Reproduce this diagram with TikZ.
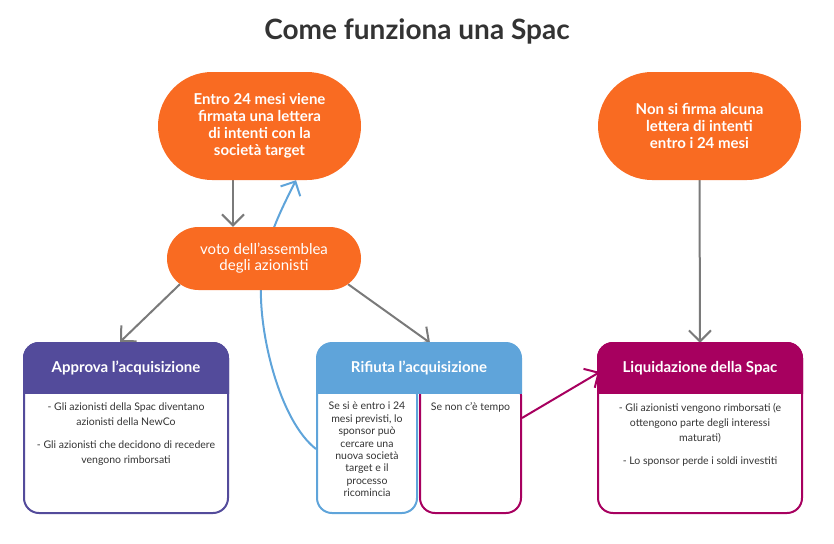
\documentclass[tikz,border=0pt]{standalone}
\usepackage{fontspec}
\setmainfont{Lato}
\usetikzlibrary{shapes.misc,arrows.meta,backgrounds}
\definecolor{orng}{HTML}{F96B22}
\definecolor{purp}{HTML}{534B9B}
\definecolor{blu}{HTML}{5FA4DA}
\definecolor{mag}{HTML}{A7005F}
\definecolor{gry}{HTML}{7A7A7A}
\definecolor{txt}{HTML}{333333}
\begin{document}
\begin{tikzpicture}[x=1pt,y=-1pt,
  stadium/.style={rounded rectangle, fill=orng, text=white, align=center, inner sep=0pt},
  boxo/.style={draw=#1, line width=2pt, rounded corners=15pt, inner sep=0pt},
  hdr/.style={minimum width=204pt, minimum height=50pt, inner sep=0pt, text=white, font=\fontsize{15}{18}\selectfont\bfseries},
  body/.style={text=txt, align=center, inner sep=0pt, font=\fontsize{10.5}{15}\selectfont},
  small/.style={text=txt, align=center, inner sep=0pt, font=\fontsize{10.5}{12.4}\selectfont},
  garrow/.style={draw=gry, line width=2pt, -{Straight Barb[length=11pt,width=22pt]}},
  barrow/.style={draw=blu, line width=2pt, -{Straight Barb[length=11pt,width=22pt]}},
  marrow/.style={draw=mag, line width=2pt, -{Straight Barb[length=11pt,width=22pt]}}
]
\useasboundingbox (0,0) rectangle (834,543);
\node[font=\fontsize{28}{30}\selectfont\bfseries, text=txt] (title) at (417,31) {Come funziona una Spac};

\node[stadium, minimum width=203pt, minimum height=108pt, font=\fontsize{15}{17}\selectfont\bfseries] (e24) at (259.5,126) {Entro 24 mesi viene\\firmata una lettera\\di intenti con la\\società target};
\node[stadium, minimum width=203pt, minimum height=108pt, font=\fontsize{15}{17}\selectfont\bfseries] (nf) at (699.5,126) {Non si firma alcuna\\lettera di intenti\\entro i 24 mesi};
\node[stadium, minimum width=194pt, minimum height=63pt, font=\fontsize{15}{16}\selectfont] (voto) at (264,258.5) {voto dell'assemblea\\degli azionisti};

% Approva
\node[boxo=purp, minimum width=204pt, minimum height=170pt] (ap) at (126,428) {};
\begin{scope}
\clip (20,339) rectangle (232,393);
\filldraw[purp, line width=2pt, rounded corners=15pt] (24,343) rectangle (228,440);
\end{scope}
\node[hdr] (aph) at (126,368) {Approva l’acquisizione};
\node[body, anchor=north] (apb) at (126,403) {- Gli azionisti della Spac diventano\\azionisti della NewCo\\[8pt]- Gli azionisti che decidono di recedere\\vengono rimborsati};

% Rifiuta
\node[boxo=blu, minimum width=100pt, minimum height=133pt] (rl) at (367,446.5) {};
\node[boxo=mag, minimum width=101pt, minimum height=133pt] (rr) at (470.5,446.5) {};
\begin{scope}
\clip (313,339) rectangle (525,393);
\filldraw[blu, line width=2pt, rounded corners=15pt] (317,343) rectangle (521,420);
\end{scope}
\node[hdr] (rh) at (419,368) {Rifiuta l’acquisizione};
\node[small, anchor=north] (rlt) at (367,402) {Se si è entro i 24\\mesi previsti, lo\\sponsor può\\cercare una\\nuova società\\target e il\\processo\\ricomincia};
\node[small, anchor=north] (rrt) at (470.5,402) {Se non c’è tempo};

% Liquidazione
\node[boxo=mag, minimum width=204pt, minimum height=170pt] (lq) at (700,428) {};
\begin{scope}
\clip (594,339) rectangle (806,393);
\filldraw[mag, line width=2pt, rounded corners=15pt] (598,343) rectangle (802,440);
\end{scope}
\node[hdr] (lh) at (700,368) {Liquidazione della Spac};
\node[body, anchor=north] (lqb) at (700,403) {- Gli azionisti vengono rimborsati (e\\ottengono parte degli interessi\\maturati)\\[8pt]- Lo sponsor perde i soldi investiti};

\begin{scope}[on background layer]
\draw[garrow] ([xshift=-26.5pt]e24.south) -- ([xshift=-31pt]voto.north);
\draw[barrow] ([yshift=-2.5pt]rl.west) .. controls (280,421) and (259,335) .. (261,285) .. controls (263,245) and (280,212) .. ([xshift=36.5pt]e24.south);
\draw[garrow] (voto.197) -- ([xshift=-6pt]ap.north);
\draw[garrow] (voto.-17) -- ([xshift=11pt]rh.north);
\draw[garrow] (nf.south) -- (lh.north);
\draw[marrow] ([yshift=28.5pt]rr.east) -- ([xshift=2pt,yshift=-4pt]lh.west);
\end{scope}
\end{tikzpicture}
\end{document}
